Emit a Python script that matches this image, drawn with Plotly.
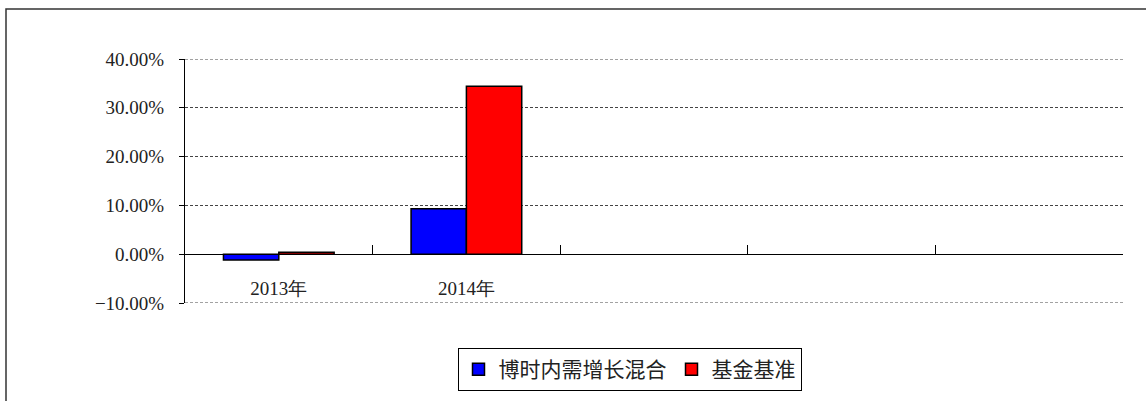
import plotly.graph_objects as go

categories = ["2013年", "2014年"]
all_slots = ["2013年", "2014年", " ", "  ", "   "]
fund_values = [-0.012, 0.093]
bench_values = [0.004, 0.344]
series_names = ["博时内需增长混合", "基金基准"]

W, H = 1146, 401
L, R, T, B = 185, 23, 59, 98
pw, ph = W - L - R, H - T - B

def px_x(sx):
    return (sx - L) / pw

def px_y(sy):
    return (H - B - sy) / ph

fig = go.Figure()
fig.add_trace(go.Bar(x=categories, y=fund_values, name=series_names[0],
                     marker=dict(color="#0000FF", line=dict(color="black", width=1.5))))
fig.add_trace(go.Bar(x=categories, y=bench_values, name=series_names[1],
                     marker=dict(color="#FF0000", line=dict(color="black", width=1.5))))

zero_pos = 0.1 / 0.5
grid_dash = "3px,2px"

fig.update_layout(
    width=W, height=H,
    margin=dict(l=L, r=R, t=T, b=B, autoexpand=False),
    paper_bgcolor="white", plot_bgcolor="white",
    barmode="group", bargap=0.41, bargroupgap=0,
    showlegend=True,
    legend=dict(orientation="h", x=px_x(629.5), xanchor="center",
                y=px_y(348), yanchor="top",
                bordercolor="black", borderwidth=1,
                font=dict(family="Noto Sans CJK SC", size=21, color="#222"),
                itemwidth=30, tracegroupgap=0),
    xaxis=dict(type="category", categoryorder="array", categoryarray=all_slots,
               range=[-0.5, 4.5], anchor="free", position=zero_pos,
               showline=True, linecolor="black", linewidth=1,
               ticks="inside", ticklen=9, tickcolor="black", tickson="boundaries",
               showgrid=False, automargin=False,
               tickfont=dict(family="Liberation Serif", size=19, color="#222"),
               ticklabelstandoff=17),
    yaxis=dict(range=[-0.1, 0.4], dtick=0.1, tick0=0, tickformat=".2%",
               showline=True, linecolor="black", linewidth=1,
               ticks="outside", ticklen=5, tickcolor="black",
               showgrid=True, gridcolor="#444", griddash=grid_dash, gridwidth=1,
               zeroline=True, zerolinecolor="black", zerolinewidth=1, automargin=False,
               tickfont=dict(family="Liberation Serif", size=19, color="#222"),
               ticklabelstandoff=11),
)

# gridlines at the range edges (plotly omits these)
for yv in (0.4, -0.1):
    fig.add_shape(type="line", xref="paper", yref="y", x0=0, x1=1, y0=yv, y1=yv,
                  line=dict(color="#444", width=1, dash=grid_dash), layer="below")

# outer frame
fig.add_shape(type="rect", xref="paper", yref="paper",
              x0=px_x(6), x1=px_x(1200),
              y0=px_y(420), y1=px_y(9),
              line=dict(color="#333", width=1.5), fillcolor="rgba(0,0,0,0)", layer="below")

fig.write_html("out.html", config={"displayModeBar": False},
               post_script="document.body.style.margin='0';document.body.style.padding='0';")
